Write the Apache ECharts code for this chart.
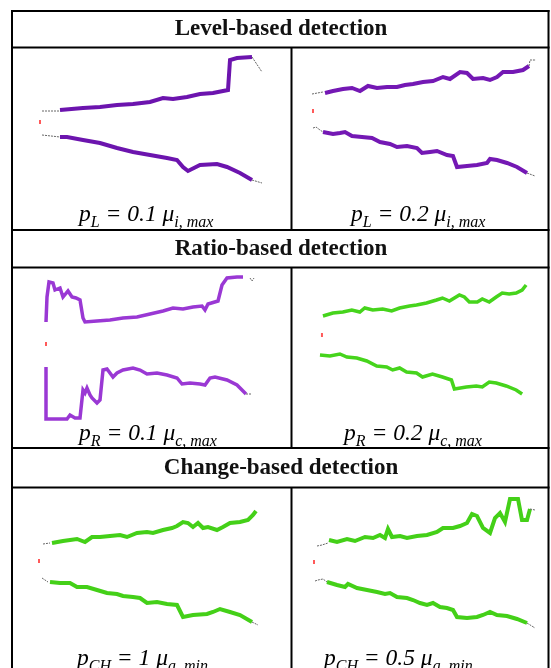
<!DOCTYPE html>
<html>
<head>
<meta charset="utf-8">
<script src="https://cdn.jsdelivr.net/npm/echarts@6/dist/echarts.min.js"></script>
<style>
  html, body { margin: 0; padding: 0; background: #fff; }
  #main { width: 551px; height: 668px; }
</style>
</head>
<body>
<div id="main"></div>
<script>
// threshold curves: [time offset, threshold value], origin = red start mark
// Level-based, pL = 0.1
var lvl1Upper = [[20,12],[43,14],[60,15],[77,17],[93,18],[110,20],[123,24],[133,23],[147,25],[160,28],[173,29],[188,32],[190,62],[197,64],[212,65]];
var lvl1Lower = [[20,-15],[27,-15],[43,-18],[60,-21],[77,-26],[93,-30],[110,-33],[127,-36],[137,-38],[143,-45],[148,-49],[160,-43],[177,-42],[187,-45],[200,-51],[212,-58]];
var lvl1Gray = [[[2,11],[19,11]], [[2,-13],[20,-15]], [[212,65],[222,50]], [[212,-58],[222,-61]]];
// Level-based, pL = 0.2
var lvl2Upper = [[12,18],[20,20],[30,22],[39,23],[47,20],[55,25],[64,23],[74,24],[84,24],[92,26],[100,27],[110,29],[120,30],[130,34],[137,32],[147,39],[154,38],[160,32],[170,33],[177,31],[184,34],[190,39],[200,39],[210,41],[216,45]];
var lvl2Lower = [[10,-21],[20,-23],[27,-22],[32,-21],[39,-25],[49,-26],[59,-27],[67,-31],[77,-33],[84,-36],[94,-35],[104,-37],[109,-42],[117,-41],[124,-40],[134,-44],[140,-45],[144,-56],[154,-55],[164,-54],[174,-52],[177,-48],[184,-49],[194,-52],[204,-56],[214,-62]];
var lvl2Gray = [[[-1,17],[10,19]], [[0,-17],[3,-16],[7,-19],[10,-21]], [[216,45],[217,51],[223,51]], [[214,-62],[222,-65]]];
// Ratio-based, pR = 0.1
var rat1Upper = [[0,22],[1,47],[3,62],[7,61],[9,54],[14,56],[17,47],[22,53],[26,47],[30,46],[34,44],[37,26],[39,22],[51,23],[64,24],[77,26],[91,27],[104,30],[117,33],[127,36],[137,35],[147,37],[156,38],[159,34],[162,40],[172,43],[176,59],[181,66],[191,67],[197,67]];
var rat1Lower = [[0,-23],[0,-75],[21,-75],[24,-71],[29,-74],[34,-74],[37,-46],[39,-49],[41,-44],[44,-51],[46,-54],[51,-59],[54,-56],[57,-26],[61,-25],[67,-33],[71,-29],[77,-26],[87,-24],[94,-26],[101,-30],[111,-29],[121,-31],[131,-34],[136,-40],[144,-39],[154,-40],[159,-41],[164,-34],[169,-33],[181,-36],[191,-41],[200,-50]];
var rat1Gray = [[[204,66],[206,63],[208,66]], [[200,-50],[205,-50]]];
// Ratio-based, pR = 0.2
var rat2Upper = [[1,19],[11,22],[21,23],[30,25],[38,23],[43,27],[51,25],[61,26],[70,24],[78,27],[88,29],[95,30],[105,32],[115,35],[121,37],[128,34],[138,40],[143,38],[148,33],[156,33],[161,36],[168,33],[175,38],[181,42],[188,41],[195,42],[201,45],[205,50]];
var rat2Lower = [[-2,-20],[8,-21],[18,-19],[25,-22],[35,-23],[45,-26],[55,-31],[65,-32],[71,-35],[78,-33],[85,-37],[95,-38],[101,-42],[111,-39],[121,-42],[130,-45],[133,-54],[145,-52],[155,-51],[161,-52],[168,-47],[175,-48],[185,-51],[195,-55],[201,-59]];
var rat2Gray = [];
// Change-based, pCH = 1
var chg1Upper = [[13,18],[24,20],[38,22],[46,19],[53,24],[61,24],[71,25],[81,26],[88,24],[98,28],[108,29],[114,28],[124,31],[133,33],[138,35],[144,39],[149,38],[154,34],[159,38],[164,33],[169,34],[178,31],[184,34],[191,38],[201,39],[209,41],[214,46],[217,50]];
var chg1Lower = [[11,-21],[21,-22],[31,-22],[38,-26],[48,-26],[58,-29],[68,-32],[78,-33],[84,-35],[94,-36],[101,-37],[108,-42],[118,-41],[128,-43],[138,-44],[144,-56],[154,-54],[168,-53],[174,-51],[181,-48],[191,-51],[201,-54],[213,-61]];
var chg1Gray = [[[4,17],[11,18]], [[3,-17],[9,-21]], [[213,-61],[219,-64]]];
// Change-based, pCH = 0.5
var chg2Upper = [[15,22],[23,20],[33,23],[41,21],[51,25],[59,24],[66,27],[71,24],[74,33],[78,25],[86,26],[93,24],[103,26],[113,27],[123,30],[129,34],[139,34],[146,36],[153,39],[158,48],[163,46],[169,34],[176,29],[181,44],[186,49],[191,40],[196,63],[204,63],[208,42],[213,42],[216,53]];
var chg2Lower = [[13,-20],[23,-23],[31,-25],[34,-22],[43,-26],[53,-28],[63,-30],[71,-32],[76,-31],[83,-35],[93,-36],[99,-38],[106,-41],[113,-43],[119,-41],[126,-45],[133,-46],[139,-48],[143,-55],[153,-56],[163,-55],[169,-53],[176,-50],[183,-53],[193,-54],[203,-57],[213,-61]];
var chg2Gray = [[[3,16],[8,17],[14,19]], [[1,-19],[4,-18],[9,-17],[13,-20]], [[216,53],[221,52]], [[213,-61],[221,-66]]];

var sectionTitles = ['Level-based detection', 'Ratio-based detection', 'Change-based detection'];

var panels = [
  { up: lvl1Upper, lo: lvl1Lower, gray: lvl1Gray, color: '#6c14ae', w: 4,   ox: 40,  oy: 122, label: ['p', 'L', ' = 0.1 ', 'μ', 'i, max'], lx: 79,  ly: 218 },
  { up: lvl2Upper, lo: lvl2Lower, gray: lvl2Gray, color: '#7418b4', w: 4,   ox: 313, oy: 111, label: ['p', 'L', ' = 0.2 ', 'μ', 'i, max'], lx: 351, ly: 218 },
  { up: rat1Upper, lo: rat1Lower, gray: rat1Gray, color: '#9a38d4', w: 3.5, ox: 46,  oy: 344, label: ['p', 'R', ' = 0.1 ', 'μ', 'c, max'], lx: 79,  ly: 437 },
  { up: rat2Upper, lo: rat2Lower, gray: rat2Gray, color: '#46d41c', w: 3.5, ox: 322, oy: 335, label: ['p', 'R', ' = 0.2 ', 'μ', 'c, max'], lx: 344, ly: 437 },
  { up: chg1Upper, lo: chg1Lower, gray: chg1Gray, color: '#44d018', w: 4,   ox: 39,  oy: 561, label: ['p', 'CH', ' = 1 ', 'μ', 'a, min'], lx: 77,  ly: 662 },
  { up: chg2Upper, lo: chg2Lower, gray: chg2Gray, color: '#44d018', w: 4,   ox: 314, oy: 562, label: ['p', 'CH', ' = 0.5 ', 'μ', 'a, min'], lx: 324, ly: 662 }
];

var X_MIN = -10, X_MAX = 230, Y_MIN = -80, Y_MAX = 70;

var grids = [], xAxes = [], yAxes = [], series = [], graphics = [];

panels.forEach(function (p, i) {
  grids.push({ left: p.ox + X_MIN, top: p.oy - Y_MAX, width: X_MAX - X_MIN, height: Y_MAX - Y_MIN });
  xAxes.push({ type: 'value', gridIndex: i, min: X_MIN, max: X_MAX, show: false });
  yAxes.push({ type: 'value', gridIndex: i, min: Y_MIN, max: Y_MAX, show: false });
  [p.up, p.lo].forEach(function (d) {
    series.push({
      type: 'line', xAxisIndex: i, yAxisIndex: i, data: d, symbol: 'none', silent: true,
      lineStyle: { color: p.color, width: p.w, join: 'miter' }
    });
  });
  p.gray.forEach(function (d) {
    series.push({
      type: 'line', xAxisIndex: i, yAxisIndex: i, data: d, symbol: 'none', silent: true,
      lineStyle: { color: '#666', width: 1, type: [2, 1] }
    });
  });
  // red start mark
  series.push({
    type: 'scatter', xAxisIndex: i, yAxisIndex: i, data: [[0, 0]], symbol: 'rect',
    symbolSize: [2, 4], itemStyle: { color: '#ff3030' }, silent: true
  });
  // panel caption
  graphics.push({
    type: 'text', left: p.lx, top: p.ly - 15, silent: true,
    style: {
      text: '{m|' + p.label[0] + '}{s|' + p.label[1] + '}{m|' + p.label[2] + '}{m|' + p.label[3] + '}{s|' + p.label[4] + '}',
      rich: {
        m: { fontFamily: 'Liberation Serif', fontStyle: 'italic', fontSize: 23.5, color: '#222', verticalAlign: 'bottom', padding: [0, 0, 5, 0] },
        s: { fontFamily: 'Liberation Serif', fontStyle: 'italic', fontSize: 16, color: '#222', verticalAlign: 'bottom' }
      }
    }
  });
});

// table rules
var hLines = [11, 47.5, 230, 267.5, 448, 487.5];
hLines.forEach(function (y) {
  graphics.push({ type: 'line', shape: { x1: 11, y1: y, x2: 549.5, y2: y }, style: { stroke: '#000', lineWidth: 2 }, silent: true });
});
graphics.push({ type: 'line', shape: { x1: 12, y1: 10, x2: 12, y2: 668 }, style: { stroke: '#000', lineWidth: 2 }, silent: true });
graphics.push({ type: 'line', shape: { x1: 548.5, y1: 10, x2: 548.5, y2: 668 }, style: { stroke: '#000', lineWidth: 2 }, silent: true });
[[47.5, 230], [267.5, 448], [487.5, 668]].forEach(function (r) {
  graphics.push({ type: 'line', shape: { x1: 291.5, y1: r[0], x2: 291.5, y2: r[1] }, style: { stroke: '#000', lineWidth: 2 }, silent: true });
});

// section headers
var headerY = [29.5, 249, 468];
sectionTitles.forEach(function (t, i) {
  graphics.push({
    type: 'text', x: 281, y: headerY[i], silent: true,
    style: { text: t, fontFamily: 'Liberation Serif', fontWeight: 'bold', fontSize: 23, fill: '#111', align: 'center', verticalAlign: 'middle' }
  });
});

var chart = echarts.init(document.getElementById('main'));
chart.setOption({
  animation: false,
  backgroundColor: '#fff',
  grid: grids,
  xAxis: xAxes,
  yAxis: yAxes,
  series: series,
  graphic: graphics
});
</script>
</body>
</html>
